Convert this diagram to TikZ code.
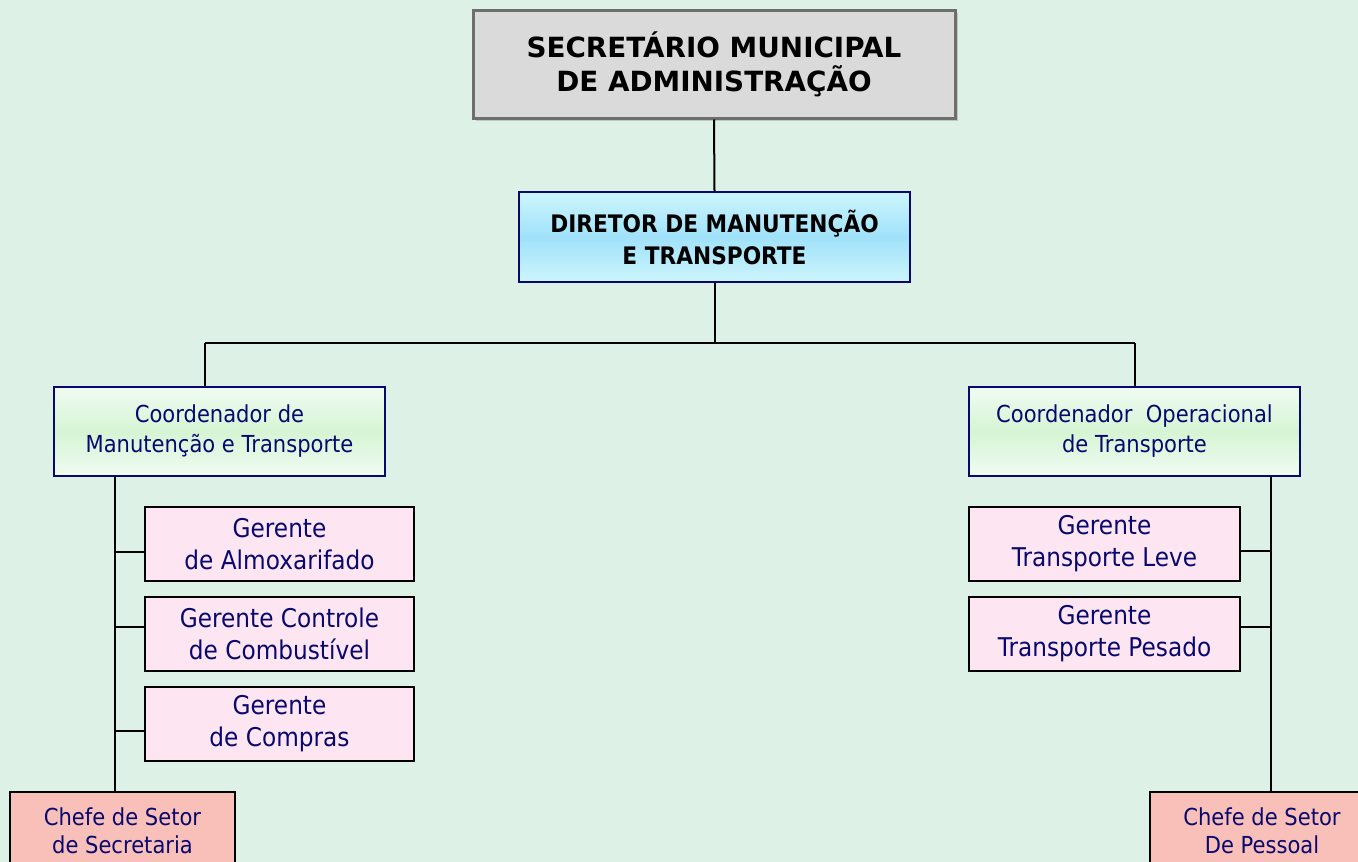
\documentclass[tikz,border=0pt]{standalone}
\usepackage{fontspec}
\setmainfont{DejaVu Sans}[FakeStretch=0.9]
\newfontfamily\widefont{DejaVu Sans}
\usetikzlibrary{shadows}
\definecolor{bg}{RGB}{221,241,231}
\definecolor{navy}{RGB}{8,8,110}
\definecolor{pinkfill}{RGB}{253,230,242}
\definecolor{salmon}{RGB}{248,192,184}
\definecolor{grayfill}{RGB}{218,218,218}
\definecolor{grayborder}{RGB}{110,110,110}
\tikzset{
  base/.style={rectangle, align=center, inner sep=0pt},
  topbox/.style={base, draw=grayborder, line width=3pt, fill=grayfill,
    drop shadow={shadow xshift=3pt, shadow yshift=-3pt, opacity=0.35},
    font=\widefont\bfseries\fontsize{27.8}{34}\selectfont, text=black},
  dirbox/.style={base, draw=navy, line width=2.2pt,
    top color={rgb,255:red,205;green,245;blue,252},
    bottom color={rgb,255:red,205;green,245;blue,252},
    middle color={rgb,255:red,160;green,226;blue,250},
    font=\bfseries\fontsize{24.1}{32}\selectfont, text=black},
  coordbox/.style={base, draw=navy, line width=2.2pt,
    top color={rgb,255:red,240;green,251;blue,243},
    bottom color={rgb,255:red,240;green,251;blue,243},
    middle color={rgb,255:red,214;green,245;blue,212},
    font=\fontsize{23.4}{30}\selectfont, text=navy},
  gerbox/.style={base, draw=black, line width=2pt, fill=pinkfill,
    font=\fontsize{25.8}{32}\selectfont, text=navy},
  chefebox/.style={base, draw=black, line width=2pt, fill=salmon,
    font=\fontsize{23.4}{28}\selectfont, text=navy},
  conn/.style={draw=black, line width=2pt}
}
\begin{document}
\begin{tikzpicture}[x=1pt,y=-1pt]
\fill[bg] (0,0) rectangle (1358,862);
\useasboundingbox (0,0) rectangle (1358,862);

\node[topbox, minimum width=482pt, minimum height=108pt] (sec) at (714,64)
  {SECRETÁRIO MUNICIPAL\\DE ADMINISTRAÇÃO};
\node[dirbox, minimum width=391pt, minimum height=90pt] (dir) at (714.5,237)
  {DIRETOR DE MANUTENÇÃO\\E TRANSPORTE};
\node[coordbox, minimum width=331pt, minimum height=89pt] (cl) at (219.5,431.5)
  {Coordenador de\\Manutenção e Transporte};
\node[coordbox, minimum width=331pt, minimum height=89pt] (cr) at (1134.5,431.5)
  {Coordenador\ \ Operacional\\de Transporte};

\node[gerbox, minimum width=269pt, minimum height=74pt] (gl1) at (279.5,544)
  {Gerente\\de Almoxarifado};
\node[gerbox, minimum width=269pt, minimum height=74pt] (gl2) at (279.5,634)
  {Gerente Controle\\de Combustível};
\node[gerbox, minimum width=269pt, minimum height=74pt] (gl3) at (279.5,724)
  {Gerente\\de Compras};
\node[gerbox, minimum width=271pt, minimum height=74pt] (gr1) at (1104.5,544)
  {Gerente\\Transporte Leve};
\node[gerbox, minimum width=271pt, minimum height=74pt] (gr2) at (1104.5,634)
  {Gerente\\Transporte Pesado};

\node[chefebox, minimum width=225pt, minimum height=78pt] (chl) at (122.5,831)
  {Chefe de Setor\\de Secretaria};
\node[chefebox, minimum width=224pt, minimum height=78pt] (chr) at (1262,831)
  {Chefe de Setor\\De Pessoal};

% connectors
\coordinate (j) at ([yshift=-60pt]dir.south);
\coordinate (jlx) at ([xshift=-14.5pt]cl.north);
\coordinate (jl) at (jlx |- j);
\coordinate (jr) at (cr.north |- j);
\draw[conn] (sec.south) -- (dir.north);
\draw[conn] (dir.south) -- (j);
\draw[conn] (jl) -- (jr);
\draw[conn] (jl) -- (jlx);
\draw[conn] (jr) -- (cr.north);

\coordinate (lt) at ([xshift=62pt]cl.south west);
\coordinate (lb) at (lt |- chl.north);
\draw[conn] (lt) -- (lb);
\coordinate (a1) at ([yshift=-8pt]gl1.west);
\coordinate (a2) at ([yshift=7pt]gl2.west);
\coordinate (a3) at ([yshift=-7pt]gl3.west);
\draw[conn] (a1) -- (lt |- a1);
\draw[conn] (a2) -- (lt |- a2);
\draw[conn] (a3) -- (lt |- a3);

\coordinate (rt) at ([xshift=-30pt]cr.south east);
\coordinate (rb) at (rt |- chr.north);
\draw[conn] (rt) -- (rb);
\coordinate (b1) at ([yshift=-7pt]gr1.east);
\coordinate (b2) at ([yshift=7pt]gr2.east);
\draw[conn] (b1) -- (rt |- b1);
\draw[conn] (b2) -- (rt |- b2);
\end{tikzpicture}
\end{document}
